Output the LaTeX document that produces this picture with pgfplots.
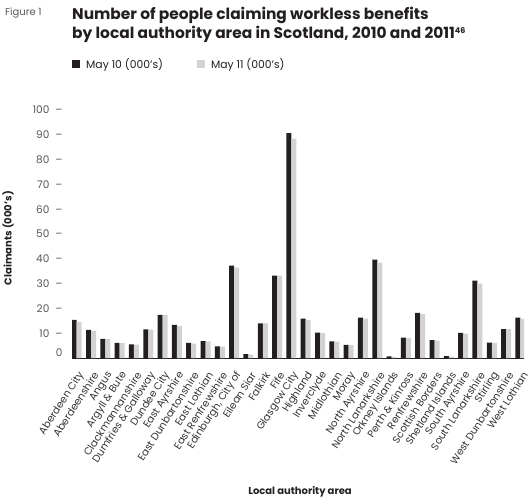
\documentclass[border=0pt]{standalone}
\usepackage{fontspec}
\setmainfont{Poppins}
\usepackage{pgfplots}
\usepackage{pgfplotstable}
\pgfplotsset{compat=1.18}
\definecolor{darkbar}{HTML}{231F20}
\definecolor{lightbar}{HTML}{D2D2D2}
\definecolor{figgray}{HTML}{555555}
\definecolor{labgray}{HTML}{333333}
\pgfplotstableread{
i d l
0 15.4 14.6
1 11.3 10.9
2 7.7 7.6
3 6.1 6.0
4 5.5 5.4
5 11.5 11.4
6 17.4 17.4
7 13.4 12.9
8 6.1 5.8
9 6.8 6.7
10 4.7 4.6
11 37.2 36.4
12 1.6 1.4
13 14.0 14.0
14 33.2 33.2
15 90.7 88.5
16 15.9 15.3
17 10.2 10.0
18 6.7 6.6
19 5.3 5.2
20 16.3 15.9
21 39.7 38.5
22 0.7 0.5
23 8.2 8.1
24 18.2 17.8
25 7.2 7.0
26 0.8 0.6
27 10.1 9.8
28 31.2 30.0
29 6.2 6.1
30 11.6 11.6
31 16.3 15.8
}\datatable
\begin{document}
\begin{tikzpicture}[x=1pt,y=1pt]
\path[use as bounding box] (0,0) rectangle (529,498);
\node[anchor=base west, inner sep=0pt, font=\fontsize{10}{11}\selectfont, text=figgray] at (5,482) {Figure 1};
\node[anchor=base west, inner sep=0pt, font=\fontsize{15.4}{16}\selectfont\bfseries, text=darkbar] at (72,478) {Number of people claiming workless benefits};
\node[anchor=base west, inner sep=0pt, font=\fontsize{15.4}{16}\selectfont\bfseries, text=darkbar] at (72,459) {by local authority area in Scotland, 2010 and 2011\textsuperscript{\fontsize{8}{8}\selectfont 46}};
\node[rotate=90, inner sep=0pt, font=\fontsize{10}{11}\selectfont\bfseries, text=darkbar] at (8,260) {Claimants (000's)};
\node[anchor=base, inner sep=0pt, font=\fontsize{10}{11}\selectfont\bfseries, text=darkbar] at (300,4) {Local authority area};
\begin{axis}[
  at={(72pt,140pt)}, anchor=south west,
  width=452pt, height=248pt, scale only axis,
  ybar=0pt, bar width=5pt,
  xmin=-0.33, xmax=31.25, ymin=0, ymax=100,
  axis x line*=bottom, axis y line*=left,
  y axis line style={draw=none},
  x axis line style={draw=darkbar, line width=0.6pt},
  tick style={draw=none},
  /pgf/number format/assume math mode=true,
  ytick={0,10,...,100},
  yticklabels={{\raisebox{1.5pt}[0pt][0pt]{0}\hspace{15pt}},10\hspace{6pt}–,20\hspace{6pt}–,30\hspace{6pt}–,40\hspace{6pt}–,50\hspace{6pt}–,60\hspace{6pt}–,70\hspace{6pt}–,80\hspace{6pt}–,90\hspace{6pt}–,100\hspace{6pt}–},
  yticklabel style={font=\fontsize{10.5}{11}\selectfont, text=figgray, anchor=east, xshift=-6pt},
  xtick={0,...,31},
  xticklabels={Aberdeen City,Aberdeenshire,Angus,Argyll \& Bute,Clackmannanshire,Dumfries \& Galloway,Dundee City,East Ayrshire,East Dunbartonshire,East Lothian,East Renfrewshire,{Edinburgh, City of},Eilean Siar,Falkirk,Fife,Glasgow City,Highland,Inverclyde,Midlothian,Moray,North Ayrshire,North Lanarkshire,Orkney Islands,Perth \& Kinross,Renfrewshire,Scottish Borders,Shetland Islands,South Ayrshire,South Lanarkshire,Stirling,West Dunbartonshire,West Lothian},
  xticklabel style={font=\fontsize{10.2}{11}\selectfont, text=labgray, rotate=57, anchor=east, yshift=-10pt, xshift=-3pt},
  legend columns=2,
  legend style={at={(axis description cs:0,1)}, anchor=south west, xshift=-3pt, yshift=36pt, draw=none, fill=none, font=\fontsize{10.8}{11}\selectfont, text=darkbar, /tikz/every even column/.append style={column sep=32pt}},
  legend image code/.code={\fill[#1] (0pt,-3.5pt) rectangle (8pt,4.5pt);},
]
\addplot[fill=darkbar, draw=none] table[x=i,y=d] {\datatable};
\addplot[fill=lightbar, draw=none] table[x=i,y=l] {\datatable};
\legend{\hspace{4pt}May 10 (000's),\hspace{4pt}May 11 (000's)}
\draw[darkbar, line width=0.6pt] (rel axis cs:0,0) -- ++(0,-4pt);
\draw[darkbar, line width=0.6pt] (rel axis cs:1,0) -- ++(0,-4pt);
\end{axis}
\end{tikzpicture}
\end{document}
